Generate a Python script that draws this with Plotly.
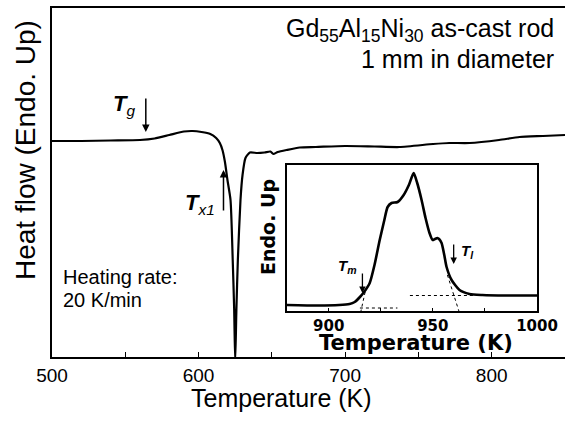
import plotly.graph_objects as go

# ---------------- data ----------------
# main DSC trace: temperature (K) and heat flow (a.u., endo up)
main_T = [500, 520, 540, 560, 570, 580, 590, 596, 602, 608, 612, 614.5, 616.3, 618, 619.7,
          621.8, 623.3, 624.3, 625, 625.8, 626.8, 628.6, 630, 632, 635, 640, 645, 649,
          651, 654, 660, 669, 680, 700, 720, 737, 760, 771, 785, 805, 819, 835, 850]
main_Q = [216, 216, 216.5, 217, 218.5, 222, 225.5, 226, 225, 223, 219, 214, 207, 195, 177,
          157, 97, 47, -5, 47, 97, 157, 182, 199, 204.5, 204, 204.5, 205.5,
          203, 205, 207, 209.5, 210, 211, 210.5, 210, 213, 214, 214, 217, 220, 221, 222]

# inset: melting region
ins_T = [880, 895, 905, 910, 912.5, 915, 917, 919.7, 922, 924.5, 926.5, 928.3, 930.2, 933.1,
         936, 938.5, 940.8, 942.5, 944.6, 946.5, 948.4, 949.9, 951, 952.2, 953, 954.2, 955.5,
         956.6, 959, 962.8, 967.6, 973.8, 985, 1000]
ins_Q = [6, 5.5, 6, 7, 9, 14, 19, 28, 46, 71, 89, 104, 108, 109,
         116, 126, 138, 128, 111, 93, 78, 71, 72, 73, 72, 68, 56,
         44, 31, 21, 17, 16, 15.5, 15.5]

# tangent construction lines (dotted) in the inset
tan_base_T = [915, 933]
tan_base_Q = [3, 3]
tan_on_T = [917.5, 915.5]
tan_on_Q = [19, 0]
tan_end_T = [939, 975]
tan_end_Q = [15.5, 15.5]
tan_off_T = [957, 962.5]
tan_off_Q = [36, 0]

main_ticks = [500, 550, 600, 650, 700, 750, 800]
main_ticklabels = ["500", "", "600", "", "700", "", "800"]
ins_ticks = [900, 925, 950, 975, 1000]
ins_ticklabels = ["900", "", "950", "", "1000"]

# ---------------- figure ----------------
W, H = 565, 423
L, R, T, B = 52, 0, 8, 66
PW, PH = W - L - R, H - T - B


def px(x):
    return (x - L) / PW


def py(y):
    return (H - B - y) / PH


fig = go.Figure()
fig.add_trace(go.Scatter(x=main_T, y=main_Q, mode="lines",
                         line=dict(color="black", width=2.2, shape="spline", smoothing=0.6),
                         xaxis="x", yaxis="y", showlegend=False))
fig.add_trace(go.Scatter(x=ins_T, y=ins_Q, mode="lines",
                         line=dict(color="black", width=2.6, shape="spline", smoothing=0.6),
                         xaxis="x2", yaxis="y2", showlegend=False))
for tx, ty in [(tan_base_T, tan_base_Q), (tan_on_T, tan_on_Q),
               (tan_end_T, tan_end_Q), (tan_off_T, tan_off_Q)]:
    fig.add_trace(go.Scatter(x=tx, y=ty, mode="lines",
                             line=dict(color="black", width=1, dash="dot"),
                             xaxis="x2", yaxis="y2", showlegend=False))

main_font = "Liberation Sans, Arial, sans-serif"
heavy_font = "DejaVu Sans, sans-serif"

fig.update_layout(
    width=W, height=H, autosize=False,
    margin=dict(l=L, r=R, t=T, b=B, pad=0, autoexpand=False),
    paper_bgcolor="white", plot_bgcolor="white",
    font=dict(family=main_font, color="black"),
    xaxis=dict(domain=[0, 1], range=[500, 850], showgrid=False, zeroline=False,
               automargin=False,
               showline=True, linecolor="black", linewidth=1.5, mirror=True,
               ticks="inside", ticklen=5, tickwidth=1.2, tickcolor="black",
               tickmode="array", tickvals=main_ticks, ticktext=main_ticklabels,
               tickfont=dict(size=19, family=main_font)),
    yaxis=dict(domain=[0, 1], range=[0, 349], showgrid=False, zeroline=False,
               automargin=False,
               showline=True, linecolor="black", linewidth=1.5,
               showticklabels=False, ticks=""),
    xaxis2=dict(domain=[px(287), px(537)], range=[880, 1000], anchor="y2",
                automargin=False,
                showgrid=False, zeroline=False, showline=True, linecolor="black",
                linewidth=1.5, mirror=True, ticks="inside", ticklen=3, tickwidth=1,
                tickcolor="black", tickmode="array", tickvals=ins_ticks,
                ticktext=ins_ticklabels,
                tickfont=dict(size=15, family=heavy_font, weight="bold")),
    yaxis2=dict(domain=[py(311), py(165)], range=[0, 146], anchor="x2",
                automargin=False,
                showgrid=False, zeroline=False, showline=True, linecolor="black",
                linewidth=1.5, mirror=True, showticklabels=False, ticks=""),
)

ann = []


def text(t, x, y, size, family=main_font, xanchor="center", angle=0):
    ann.append(dict(text=t, x=px(x), y=py(y), xref="paper", yref="paper",
                    xanchor=xanchor, yanchor="middle", showarrow=False,
                    textangle=angle, font=dict(size=size, family=family)))


# axis titles
text("Temperature (K)", 281, 398, 25)
text("Heat flow (Endo. Up)", 25, 150, 28, angle=-90)
# inset titles
text("<b>Temperature (K)</b>", 416, 343, 21, family=heavy_font)
text("<b>Endo. Up</b>", 268, 227, 19, family=heavy_font, angle=-90)
# sample description
text("Gd<sub>55</sub>Al<sub>15</sub>Ni<sub>30</sub> as-cast rod", 556, 30, 25, xanchor="right")
text("1 mm in diameter", 556, 59, 25, xanchor="right")
text("Heating rate:", 61, 277, 20, xanchor="left")
text("20 K/min", 61, 300, 20, xanchor="left")
# labels
text("<b><i>T</i></b><sub><i>g</i></sub>", 137, 105, 22, xanchor="right")
text("<b><i>T</i></b><sub><i>x1</i></sub>", 217, 204, 22, xanchor="right")
text("<b><i>T</i></b><sub><b><i>m</i></b></sub>", 359, 266, 15, xanchor="right")
text("<b><i>T</i></b><sub><b><i>l</i></b></sub>", 459, 252, 15, xanchor="left")

# arrows (main)
ann.append(dict(x=564, y=357 - 132, xref="x", yref="y", ax=0, ay=-35, showarrow=True,
                arrowhead=2, arrowsize=1, arrowwidth=1.5, arrowcolor="black", text=""))
ann.append(dict(x=617, y=357 - 170, xref="x", yref="y", ax=0, ay=42, showarrow=True,
                arrowhead=2, arrowsize=1, arrowwidth=1.5, arrowcolor="black", text=""))
# arrows (inset)
ann.append(dict(x=916.2, y=311 - 293, xref="x2", yref="y2", ax=0, ay=-21, showarrow=True,
                arrowhead=2, arrowsize=1, arrowwidth=1.3, arrowcolor="black", text=""))
ann.append(dict(x=960, y=311 - 264, xref="x2", yref="y2", ax=0, ay=-21, showarrow=True,
                arrowhead=2, arrowsize=1, arrowwidth=1.3, arrowcolor="black", text=""))

fig.update_layout(annotations=ann)
fig.write_html("out.html", config={"responsive": False})
